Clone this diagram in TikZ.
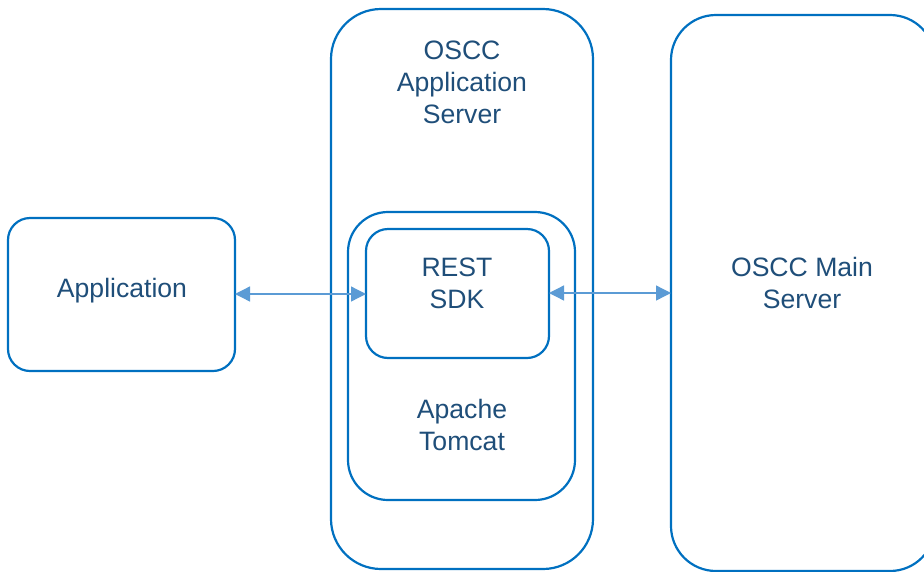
\documentclass[tikz,border=0pt]{standalone}
\usepackage{fontspec}
\setmainfont{Liberation Sans}
\usetikzlibrary{arrows.meta}
\definecolor{boxblue}{HTML}{0070C0}
\definecolor{arrowblue}{HTML}{5B9BD5}
\definecolor{txtblue}{HTML}{1F4E79}
\begin{document}
\begin{tikzpicture}[x=1pt,y=-1pt,
  box/.style={draw=boxblue,line width=2.2pt,fill=none,inner sep=0pt,outer sep=0pt},
  lbl/.style={text=txtblue,font=\fontsize{26.6}{32}\selectfont,align=center,inner sep=0pt},
  conn/.style={draw=arrowblue,line width=1.3pt,
    {Triangle[length=15pt,width=15pt]}-{Triangle[length=15pt,width=15pt]}}]
\useasboundingbox (0,0) rectangle (924,571);
\clip (0,0) rectangle (924,571);
% boxes
\node[box,rounded corners=22pt,minimum width=227pt,minimum height=153pt] (app) at (121.5,294.5) {};
\node[box,rounded corners=50pt,minimum width=262pt,minimum height=560pt] (appsrv) at (462,289) {};
\node[box,rounded corners=40pt,minimum width=227pt,minimum height=288pt] (tomcat) at (461.5,356) {};
\node[box,rounded corners=22pt,minimum width=183pt,minimum height=129pt] (rest) at (457.5,293.5) {};
\node[box,rounded corners=45pt,minimum width=264pt,minimum height=556pt] (main) at (803,293) {};
% labels
\node[lbl] (applbl) at (122,291) {Application};
\node[lbl] (appsrvlbl) at (462,82) {OSCC\\Application\\Server};
\node[lbl] (restlbl) at (457,283) {REST\\SDK};
\node[lbl] (tomcatlbl) at (462,425) {Apache\\Tomcat};
\node[lbl] (mainlbl) at (802,283) {OSCC Main\\Server};
% connectors
\draw[conn] (app.east |- 0,294) -- (rest.west |- 0,294);
\draw[conn] (rest.east |- 0,293) -- (main.west |- 0,293);
\end{tikzpicture}
\end{document}
